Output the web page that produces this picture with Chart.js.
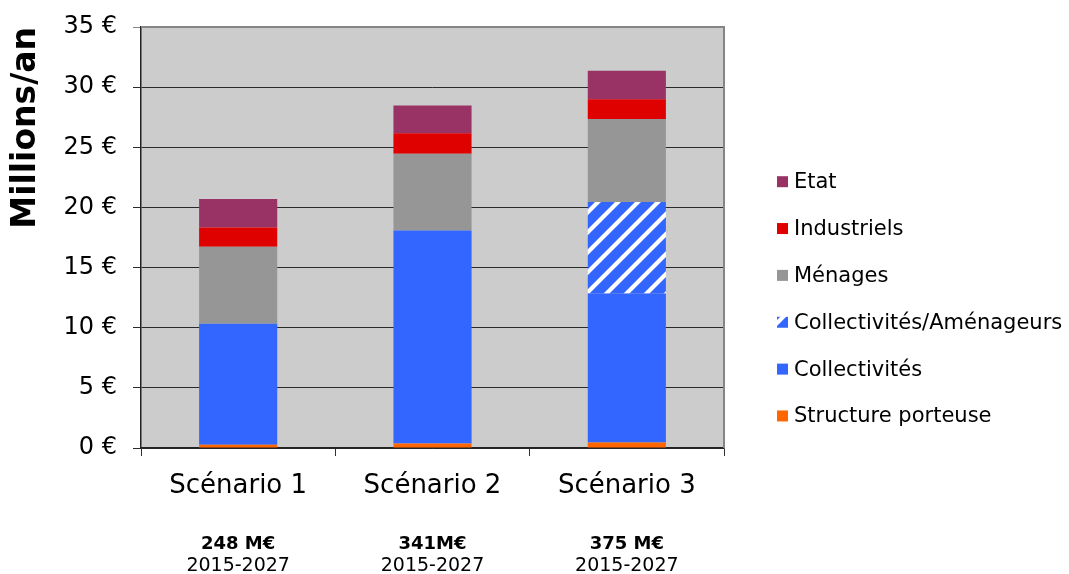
<!DOCTYPE html>
<html lang="fr">
<head>
<meta charset="utf-8">
<title>Financement par scénario</title>
<script src="https://cdn.jsdelivr.net/npm/chart.js@4.4.1/dist/chart.umd.min.js"></script>
<style>
  html, body { margin: 0; padding: 0; background: #ffffff; }
  #wrap { position: relative; width: 1069px; height: 574px; }
</style>
</head>
<body>
<div id="wrap"><canvas id="chart" width="1069" height="574"></canvas></div>
<script>
// Scénarios et contributions annuelles (millions d'euros par an)
const categories = ['Scénario 1', 'Scénario 2', 'Scénario 3'];
const structurePorteuse = [0.27, 0.38, 0.46];
const collectivites = [10.05, 17.70, 12.39];
const collectivitesAmenageurs = [0, 0, 7.61];
const menages = [6.41, 6.39, 6.90];
const industriels = [1.60, 1.69, 1.63];
const etat = [2.38, 2.31, 2.38];

// Montants totaux sur la période
const totals = ['248 M€', '341M€', '375 M€'];
const periods = ['2015-2027', '2015-2027', '2015-2027'];

// Graduations de l'axe vertical
const yTicks = [0, 5, 10, 15, 20, 25, 30, 35];

const FONT = "'DejaVu Sans', Verdana, sans-serif";

// Motif hachuré bleu/blanc pour « Collectivités/Aménageurs »
function makeHatch() {
  const s = 20;
  const c = document.createElement('canvas');
  c.width = s; c.height = s;
  const g = c.getContext('2d');
  g.fillStyle = '#3366FF';
  g.fillRect(0, 0, s, s);
  g.strokeStyle = '#ffffff';
  g.lineWidth = 4.2;
  g.lineCap = 'square';
  g.beginPath();
  g.moveTo(-2, s + 2); g.lineTo(s + 2, -2);
  g.moveTo(-s / 2 - 2, s / 2 + 2); g.lineTo(s / 2 + 2, -s / 2 - 2);
  g.moveTo(s / 2 - 2, s * 1.5 + 2); g.lineTo(s * 1.5 + 2, s / 2 - 2);
  g.stroke();
  return g.createPattern(c, 'repeat');
}
const hatch = makeHatch();

// Fond gris et cadre de la zone de tracé
const plotArea = {
  id: 'plotArea',
  beforeDraw(chart) {
    const { ctx, chartArea: a } = chart;
    ctx.save();
    ctx.fillStyle = '#CCCCCC';
    ctx.fillRect(a.left, a.top, a.right - a.left, a.bottom - a.top);
    ctx.restore();
  },
  afterDatasetsDraw(chart) {
    const { ctx, chartArea: a } = chart;
    ctx.save();
    ctx.strokeStyle = '#858585';
    ctx.lineWidth = 2;
    ctx.beginPath();
    ctx.moveTo(a.left, a.top);
    ctx.lineTo(a.right, a.top);
    ctx.lineTo(a.right, a.bottom);
    ctx.stroke();
    ctx.restore();
  }
};

// Légende à droite, dans l'ordre d'empilement inverse
const sideLegend = {
  id: 'sideLegend',
  afterDraw(chart) {
    const { ctx } = chart;
    const sets = chart.data.datasets.slice().reverse();
    ctx.save();
    ctx.font = '21px ' + FONT;
    ctx.textBaseline = 'middle';
    ctx.textAlign = 'left';
    sets.forEach((ds, i) => {
      const y = 181.7 + i * 46.85;
      ctx.fillStyle = ds.backgroundColor;
      ctx.fillRect(777, y - 5.5, 11, 11);
      ctx.fillStyle = '#000000';
      ctx.fillText(ds.label, 794, y + 1);
    });
    ctx.restore();
  }
};

// Totaux et période sous chaque scénario
const totalsBelow = {
  id: 'totalsBelow',
  afterDraw(chart) {
    const { ctx } = chart;
    const x = chart.scales.x;
    ctx.save();
    ctx.fillStyle = '#000000';
    ctx.textAlign = 'center';
    ctx.textBaseline = 'middle';
    categories.forEach((c, i) => {
      const cx = x.getPixelForValue(i);
      ctx.font = 'bold 18px ' + FONT;
      ctx.fillText(totals[i], cx, 544);
      ctx.font = '19px ' + FONT;
      ctx.fillText(periods[i], cx, 566);
    });
    ctx.restore();
  }
};

const ds = (label, data, color) => ({
  label, data, backgroundColor: color, borderWidth: 0,
  barPercentage: 0.402, categoryPercentage: 1.0
});

new Chart(document.getElementById('chart'), {
  type: 'bar',
  data: {
    labels: categories,
    datasets: [
      ds('Structure porteuse', structurePorteuse, '#FF6600'),
      ds('Collectivités', collectivites, '#3366FF'),
      ds('Collectivités/Aménageurs', collectivitesAmenageurs, hatch),
      ds('Ménages', menages, '#969696'),
      ds('Industriels', industriels, '#DF0000'),
      ds('Etat', etat, '#993366')
    ]
  },
  options: {
    responsive: false,
    animation: false,
    devicePixelRatio: 1,
    layout: { padding: { top: 27, right: 345, bottom: 0, left: 0 } },
    plugins: {
      legend: { display: false },
      tooltip: { enabled: false }
    },
    scales: {
      x: {
        stacked: true,
        afterFit(s) { s.height = 126; s.paddingLeft = 0; s.paddingRight = 0; },
        grid: {
          offset: true,
          drawOnChartArea: false,
          drawTicks: true,
          tickLength: 8,
          color: '#333333',
          lineWidth: 1
        },
        border: { display: true, color: '#222222', width: 1.5 },
        ticks: {
          color: '#000000',
          padding: 15,
          font: { family: FONT, size: 26 }
        }
      },
      y: {
        stacked: true,
        min: 0,
        max: 35,
        afterFit(s) { s.width = 141; s.paddingTop = 0; s.paddingBottom = 0; },
        afterBuildTicks(s) { s.ticks = yTicks.map(v => ({ value: v })); },
        grid: {
          drawTicks: true,
          tickLength: 8,
          color: (c) => (c.tick && c.tick.value === 35 ? '#858585' : '#2a2a2a'),
          lineWidth: 1
        },
        border: { display: true, color: '#222222', width: 1.5 },
        ticks: {
          color: '#000000',
          padding: 16,
          font: { family: FONT, size: 24 },
          callback: (v) => v + ' €'
        },
        title: {
          display: true,
          text: 'Millions/an',
          align: 'end',
          color: '#000000',
          padding: { top: 7, bottom: 0 },
          font: { family: FONT, size: 33, weight: 'bold' }
        }
      }
    }
  },
  plugins: [plotArea, sideLegend, totalsBelow]
});
</script>
</body>
</html>
